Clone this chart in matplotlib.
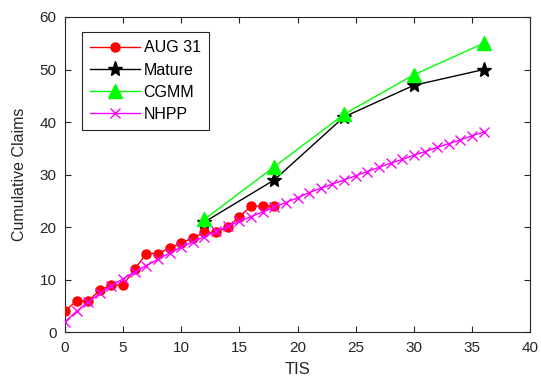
import numpy as np
import matplotlib
matplotlib.use("Agg")
import matplotlib.pyplot as plt

plt.rcParams["font.family"] = ["Liberation Sans", "DejaVu Sans"]

# observed claims up to Aug 31
aug_t = list(range(0, 19))
aug_claims = [4, 6, 6, 8, 9, 9, 12, 15, 15, 16, 17, 18, 19, 19, 20, 22, 24, 24, 24]

# mature data and CGMM prediction
mat_t = [12, 18, 24, 30, 36]
mature = [21, 29, 41, 47, 50]
cgmm = [21.5, 31.5, 41.5, 49, 55]

# NHPP fit
nhpp_t = list(range(0, 37))
nhpp = [2.0, 4.0, 5.8, 7.4, 8.9, 10.2, 11.5, 12.7, 13.9, 15.1, 16.2, 17.2, 18.2,
        19.2, 20.2, 21.1, 22.0, 22.9, 23.8, 24.7, 25.6, 26.6, 27.4, 28.2, 29.0,
        29.8, 30.6, 31.4, 32.2, 32.9, 33.7, 34.4, 35.2, 35.9, 36.6, 37.4, 38.1]

ax_col = "#262626"
fig = plt.figure(figsize=(5.41, 3.86), dpi=100)
ax = fig.add_axes([0.12, 0.139, 0.860, 0.817])

ax.plot(aug_t, aug_claims, color="#FF0000", lw=1, marker="o", ms=6.5,
        mfc="#FF0000", mec="#FF0000", label="AUG 31", zorder=3)
ax.plot(mat_t, mature, color="black", lw=1, marker="*", ms=11,
        mfc="black", mec="black", label="Mature", zorder=4)
ax.plot(mat_t, cgmm, color="#00FF00", lw=1, marker="^", ms=10,
        mfc="#00FF00", mec="#00FF00", label="CGMM", zorder=5)
ax.plot(nhpp_t, nhpp, color="#FF00FF", lw=1, marker="x", ms=7, mew=1,
        label="NHPP", zorder=4)

ax.set_xlim(0, 40)
ax.set_ylim(0, 60)
ax.set_xticks(range(0, 41, 5))
ax.set_yticks(range(0, 61, 10))
ax.set_xlabel("TIS", fontsize=12, color=ax_col, labelpad=5)
ax.set_ylabel("Cumulative Claims", fontsize=11.5, color=ax_col, labelpad=9)
ax.tick_params(direction="in", top=True, right=True, length=4, width=0.8,
               colors=ax_col, labelsize=11, pad=6)
for s in ax.spines.values():
    s.set_color(ax_col)
    s.set_linewidth(0.8)

leg = ax.legend(loc="upper left", bbox_to_anchor=(0.037, 0.951), borderaxespad=0,
                fontsize=11.5, fancybox=False, framealpha=1, edgecolor=ax_col,
                handlelength=3.1, labelspacing=0.45, borderpad=0.5,
                handletextpad=0.25)
leg.get_frame().set_linewidth(0.8)

fig.savefig("out.png", dpi=100)
